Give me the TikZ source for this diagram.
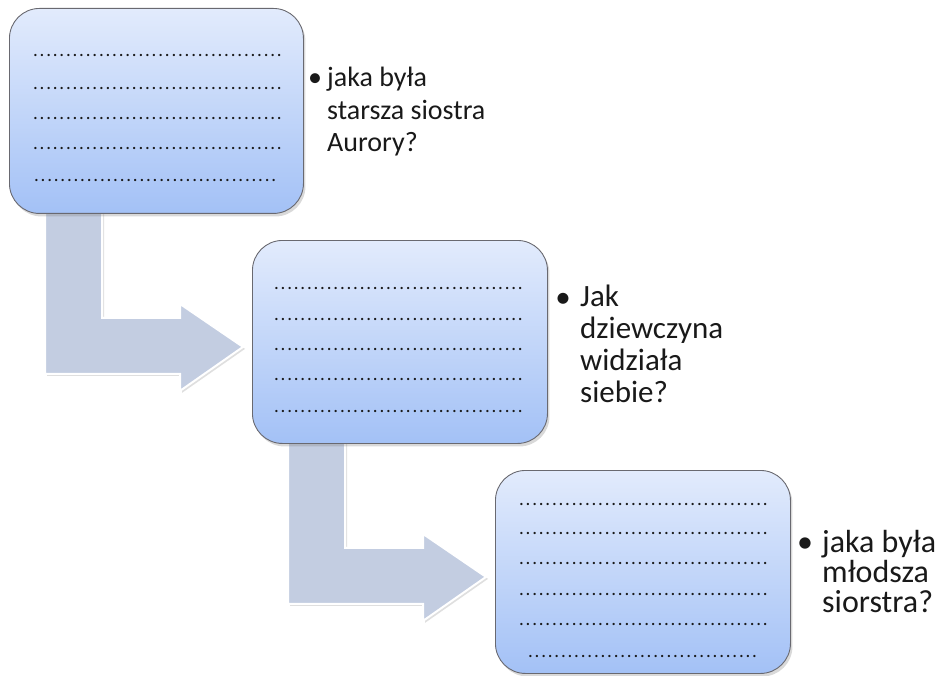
\documentclass[tikz,border=0pt]{standalone}
\usepackage{fontspec}
\setmainfont{Carlito}
\usetikzlibrary{shadows,calc,backgrounds}
\definecolor{boxtop}{RGB}{226,235,252}
\definecolor{boxbot}{RGB}{163,193,246}
\definecolor{boxline}{RGB}{105,105,112}
\definecolor{arrowfill}{RGB}{195,205,225}
\definecolor{txt}{RGB}{25,25,25}
\newcommand\rowdots{\leaders\hbox to 6.6pt{\hss\fontsize{19}{19}\selectfont.\hss}\hfill}
\tikzset{
  panel/.style={draw=boxline, line width=0.9pt, rounded corners=30pt,
    top color=boxtop, bottom color=boxbot,
    drop shadow={opacity=0.3, shadow xshift=2pt, shadow yshift=-3pt},
    inner sep=0pt, anchor=north west},
  dotrow/.style={anchor=base west, inner sep=0pt, text=txt},
  qtext/.style={anchor=base west, align=left, inner sep=0pt, text=txt},
  bulletmark/.style={anchor=base, inner sep=0pt, text=txt},
  bentarrow/.pic={
    \path[fill=arrowfill, draw=white, line width=2pt, line join=miter,
      drop shadow={opacity=0.25, shadow xshift=2pt, shadow yshift=-2pt}]
      (36,-10) -- (36,160) -- (171,160) -- (171,177) -- (234,133)
      -- (171,90) -- (171,104) -- (93,104) -- (93,-10) -- cycle;
  }
}
\begin{document}
\begin{tikzpicture}[x=1pt,y=-1pt]
\useasboundingbox (0,0) rectangle (941,676);
% boxes
\node[panel, minimum width=294pt, minimum height=205pt] (b1) at (9,8) {};
\node[panel, minimum width=295pt, minimum height=203pt] (b2) at (252,240) {};
\node[panel, minimum width=295pt, minimum height=203pt] (b3) at (495,470) {};
% arrows
\begin{scope}[on background layer]
\pic (a1) at (b1.south west) {bentarrow};
\pic (a2) at (b2.south west) {bentarrow};
\end{scope}
% dotted rows
\foreach \y [count=\i] in {57,90,120,150}
  \node[dotrow] (r1\i) at (32,\y) {\makebox[252pt][l]{\rowdots}};
\node[dotrow] (r15) at (33,182) {\makebox[248pt][l]{\rowdots}};
\foreach \y [count=\i] in {289,320,350,380,412}
  \node[dotrow] (r2\i) at (273,\y) {\makebox[253pt][l]{\rowdots}};
\foreach \y [count=\i] in {505,534,564,595,625}
  \node[dotrow] (r3\i) at (518,\y) {\makebox[251pt][l]{\rowdots}};
\node[dotrow] (r36) at (527,657) {\makebox[232pt][l]{\rowdots}};
% questions
\node[bulletmark, font=\fontsize{28}{32.5}\selectfont] (p1) at (315,87) {•};
\node[qtext, font=\fontsize{28}{32.5}\selectfont] (q1) at (327,152) {jaka była\\starsza siostra\\Aurory?};
\node[bulletmark, font=\fontsize{31}{31.7}\selectfont] (p2) at (563,307) {•};
\node[qtext, font=\fontsize{31}{31.7}\selectfont] (q2) at (580,402) {Jak\\dziewczyna\\widziała\\siebie?};
\node[bulletmark, font=\fontsize{32}{30}\selectfont] (p3) at (805,552) {•};
\node[qtext, font=\fontsize{32}{30}\selectfont] (q3) at (822,612) {jaka była\\młodsza\\siorstra?};
\end{tikzpicture}
\end{document}
